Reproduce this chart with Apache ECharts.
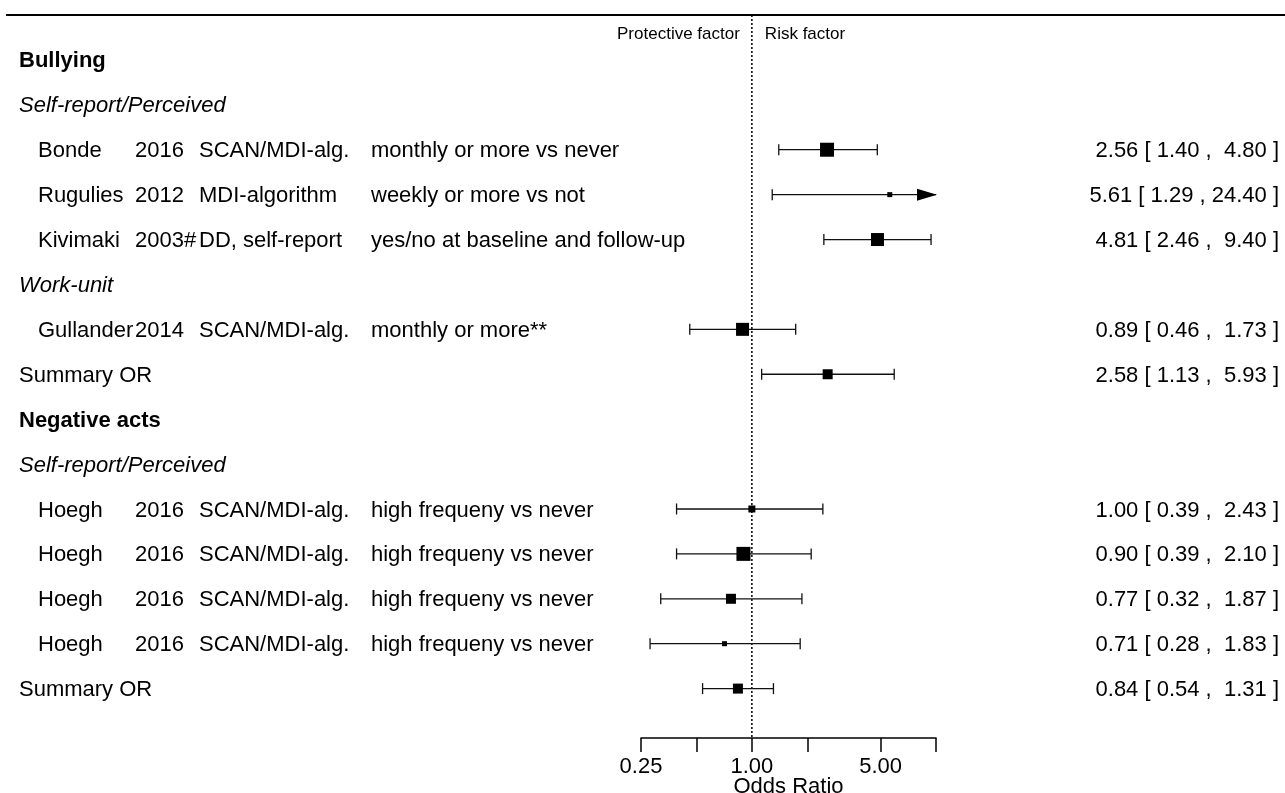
<!DOCTYPE html>
<html>
<head>
<meta charset="utf-8">
<script src="https://cdn.jsdelivr.net/npm/echarts@6/dist/echarts.min.js"></script>
<style>
  html, body { margin: 0; padding: 0; background: #fff; }
  #chart { width: 1285px; height: 793px; }
</style>
</head>
<body>
<div id="chart"></div>
<script>
// ---------------- data ----------------
// Section headings and sub-headings (row numbers counted from the top)
const headingRows = [1, 9];
const headingText = ['Bullying', 'Negative acts'];
const subheadingRows = [2, 6, 10];
const subheadingText = ['Self-report/Perceived', 'Work-unit', 'Self-report/Perceived'];

// Individual studies
const studyRows = [3, 4, 5, 7, 11, 12, 13, 14];
const studyAuthor = ['Bonde', 'Rugulies', 'Kivimaki', 'Gullander', 'Hoegh', 'Hoegh', 'Hoegh', 'Hoegh'];
const studyYear = ['2016', '2012', '2003#', '2014', '2016', '2016', '2016', '2016'];
const studyMethod = ['SCAN/MDI-alg.', 'MDI-algorithm', 'DD, self-report', 'SCAN/MDI-alg.',
                     'SCAN/MDI-alg.', 'SCAN/MDI-alg.', 'SCAN/MDI-alg.', 'SCAN/MDI-alg.'];
const studyContrast = ['monthly or more vs never', 'weekly or more vs not',
                       'yes/no at baseline and follow-up', 'monthly or more**',
                       'high frequeny vs never', 'high frequeny vs never',
                       'high frequeny vs never', 'high frequeny vs never'];
const studyOR = [2.56, 5.61, 4.81, 0.89, 1.00, 0.90, 0.77, 0.71];
const studyLower = [1.40, 1.29, 2.46, 0.46, 0.39, 0.39, 0.32, 0.28];
const studyUpper = [4.80, 24.40, 9.40, 1.73, 2.43, 2.10, 1.87, 1.83];
const studyWeight = [14, 5, 13, 13, 7, 14, 10, 5];   // relative weight -> box size

// Pooled estimates
const summaryRows = [8, 15];
const summaryLabel = ['Summary OR', 'Summary OR'];
const summaryOR = [2.58, 0.84];
const summaryLower = [1.13, 0.54];
const summaryUpper = [5.93, 1.31];
const summaryWeight = [10, 10];

// Axis
const tickValues = [0.25, 0.5, 1, 2, 5, 10];
const tickLabelValues = [0.25, 1, 5];
const axisTitle = 'Odds Ratio';
const nullOR = 1;
const leftHeader = 'Protective factor';
const rightHeader = 'Risk factor';

// ---------------- layout / style ----------------
const FONT = "'Liberation Sans', Arial, Helvetica, sans-serif";
const FS = 22;
const INK = '#000';
const X_MIN = 0.25, X_MAX = 10;
const Y_MIN = 0, Y_MAX = 16.1;
const HEADER_ROW = 0.4;
const TEXT_DY = 1.5;    // nudge so glyphs sit centred on the row
const COL = { indent: 19, author: 38, year: 135, method: 199, contrast: 371, estimate: 1279 };
const CAP = 5.5;        // half height of the CI whisker caps
const BOX_SCALE = 1;    // px per weight unit

const fmt = v => v.toFixed(2);
const allOR = studyOR.concat(summaryOR);
const allLo = studyLower.concat(summaryLower);
const allHi = studyUpper.concat(summaryUpper);
const wOR = Math.max(...allOR.map(v => fmt(v).length));
const wLo = Math.max(...allLo.map(v => fmt(v).length));
const wHi = Math.max(...allHi.map(v => fmt(v).length));
const fmtCI = (or, lo, hi) =>
  fmt(or).padStart(wOR, ' ') + ' [ ' + fmt(lo).padStart(wLo, ' ') + ' , ' + fmt(hi).padStart(wHi, ' ') + ' ]';

// Text rows of the table
const tableRows = [];
headingRows.forEach((r, i) => tableRows.push({ row: r, kind: 'heading', text: headingText[i] }));
subheadingRows.forEach((r, i) => tableRows.push({ row: r, kind: 'sub', text: subheadingText[i] }));
studyRows.forEach((r, i) => tableRows.push({
  row: r, kind: 'study', author: studyAuthor[i], year: studyYear[i], method: studyMethod[i],
  contrast: studyContrast[i], est: fmtCI(studyOR[i], studyLower[i], studyUpper[i])
}));
summaryRows.forEach((r, i) => tableRows.push({
  row: r, kind: 'summary', text: summaryLabel[i], est: fmtCI(summaryOR[i], summaryLower[i], summaryUpper[i])
}));

// Forest marks: [estimate, lower, upper, row, weight]
const forestData = [];
studyRows.forEach((r, i) => forestData.push([studyOR[i], studyLower[i], studyUpper[i], r, studyWeight[i]]));
summaryRows.forEach((r, i) => forestData.push([summaryOR[i], summaryLower[i], summaryUpper[i], r, summaryWeight[i]]));

function textEl(text, x, y, o) {
  o = o || {};
  return {
    type: 'text',
    style: {
      text: text, x: x, y: y,
      align: o.align || 'left', verticalAlign: 'middle',
      fontFamily: FONT, fontSize: o.size || FS,
      fontWeight: o.weight || 'normal', fontStyle: o.style || 'normal',
      fill: INK
    }
  };
}

const chart = echarts.init(document.getElementById('chart'), null, { renderer: 'canvas' });

chart.setOption({
  backgroundColor: '#fff',
  animation: false,
  graphic: [{
    type: 'line',
    shape: { x1: 6, y1: 15, x2: 1285, y2: 15 },
    style: { stroke: INK, lineWidth: 2 }
  }],
  grid: { left: 641, right: 349, top: 15, bottom: 55, outerBoundsMode: 'none', containLabel: false },
  xAxis: {
    type: 'log', logBase: 10, min: X_MIN, max: X_MAX, position: 'bottom',
    name: axisTitle, nameLocation: 'middle', nameGap: 38, nameMoveOverlap: false,
    nameTextStyle: { fontFamily: FONT, fontSize: FS, color: INK, verticalAlign: 'top' },
    axisLine: { onZero: false, lineStyle: { color: INK, width: 1.5 } },
    axisTick: { show: true, length: 14, lineStyle: { color: INK, width: 1.5 }, customValues: tickValues },
    axisLabel: {
      customValues: tickLabelValues, margin: 18,
      fontFamily: FONT, fontSize: FS, color: INK,
      formatter: v => Number(v).toFixed(2)
    },
    splitLine: { show: false },
    minorTick: { show: false }
  },
  yAxis: {
    type: 'value', inverse: true, min: Y_MIN, max: Y_MAX,
    show: false, splitLine: { show: false }
  },
  series: [
    {
      // reference line at OR = 1 with direction headers
      type: 'custom',
      name: 'reference',
      data: [[nullOR, HEADER_ROW]],
      encode: { x: 0, y: 1 },
      silent: true,
      renderItem: (params, api) => {
        const top = api.coord([nullOR, Y_MIN]);
        const bot = api.coord([nullOR, Y_MAX]);
        const hy = api.coord([nullOR, HEADER_ROW])[1] + 1;
        return {
          type: 'group',
          children: [
            {
              type: 'line',
              shape: { x1: top[0], y1: top[1], x2: bot[0], y2: bot[1] },
              style: { stroke: INK, lineWidth: 1.5, lineDash: [2, 2] }
            },
            textEl(leftHeader, top[0] - 12, hy, { align: 'right', size: 17 }),
            textEl(rightHeader, top[0] + 13, hy, { align: 'left', size: 17 })
          ]
        };
      }
    },
    {
      // CI whiskers and weighted boxes
      type: 'custom',
      name: 'forest',
      data: forestData,
      encode: { x: [0, 1, 2], y: 3 },
      silent: true,
      renderItem: (params, api) => {
        const est = api.value(0), lo = api.value(1), hi = api.value(2);
        const row = api.value(3), w = api.value(4);
        const c = api.coord([est, row]);
        const y = c[1];
        const x0 = api.coord([Math.max(lo, X_MIN), row])[0];
        const x1 = api.coord([Math.min(hi, X_MAX), row])[0];
        const stroke = { stroke: '#111', lineWidth: 1.3 };
        const ch = [];
        ch.push({ type: 'line', shape: { x1: x0, y1: y, x2: x1, y2: y }, style: stroke });
        if (lo >= X_MIN) {
          ch.push({ type: 'line', shape: { x1: x0, y1: y - CAP, x2: x0, y2: y + CAP }, style: stroke });
        } else {
          ch.push({ type: 'polygon', shape: { points: [[x0 - 1, y], [x0 + 19, y - 6], [x0 + 19, y + 6]] }, style: { fill: INK } });
        }
        if (hi <= X_MAX) {
          ch.push({ type: 'line', shape: { x1: x1, y1: y - CAP, x2: x1, y2: y + CAP }, style: stroke });
        } else {
          ch.push({ type: 'polygon', shape: { points: [[x1 + 1, y], [x1 - 19, y - 6], [x1 - 19, y + 6]] }, style: { fill: INK } });
        }
        const s = w * BOX_SCALE;
        ch.push({ type: 'rect', shape: { x: c[0] - s / 2, y: y - s / 2, width: s, height: s }, style: { fill: INK } });
        return { type: 'group', children: ch };
      }
    },
    {
      // table text (left columns and estimates on the right)
      type: 'custom',
      name: 'table',
      data: tableRows.map(r => [nullOR, r.row]),
      encode: { x: 0, y: 1 },
      silent: true,
      renderItem: (params, api) => {
        const r = tableRows[params.dataIndex];
        const y = api.coord([nullOR, r.row])[1] + TEXT_DY;
        const ch = [];
        if (r.kind === 'heading') {
          ch.push(textEl(r.text, COL.indent, y, { weight: 'bold' }));
        } else if (r.kind === 'sub') {
          ch.push(textEl(r.text, COL.indent, y, { style: 'italic' }));
        } else if (r.kind === 'study') {
          ch.push(textEl(r.author, COL.author, y));
          ch.push(textEl(r.year, COL.year, y));
          ch.push(textEl(r.method, COL.method, y));
          ch.push(textEl(r.contrast, COL.contrast, y));
          ch.push(textEl(r.est, COL.estimate, y, { align: 'right' }));
        } else {
          ch.push(textEl(r.text, COL.indent, y));
          ch.push(textEl(r.est, COL.estimate, y, { align: 'right' }));
        }
        return { type: 'group', children: ch };
      }
    }
  ]
});
</script>
</body>
</html>
